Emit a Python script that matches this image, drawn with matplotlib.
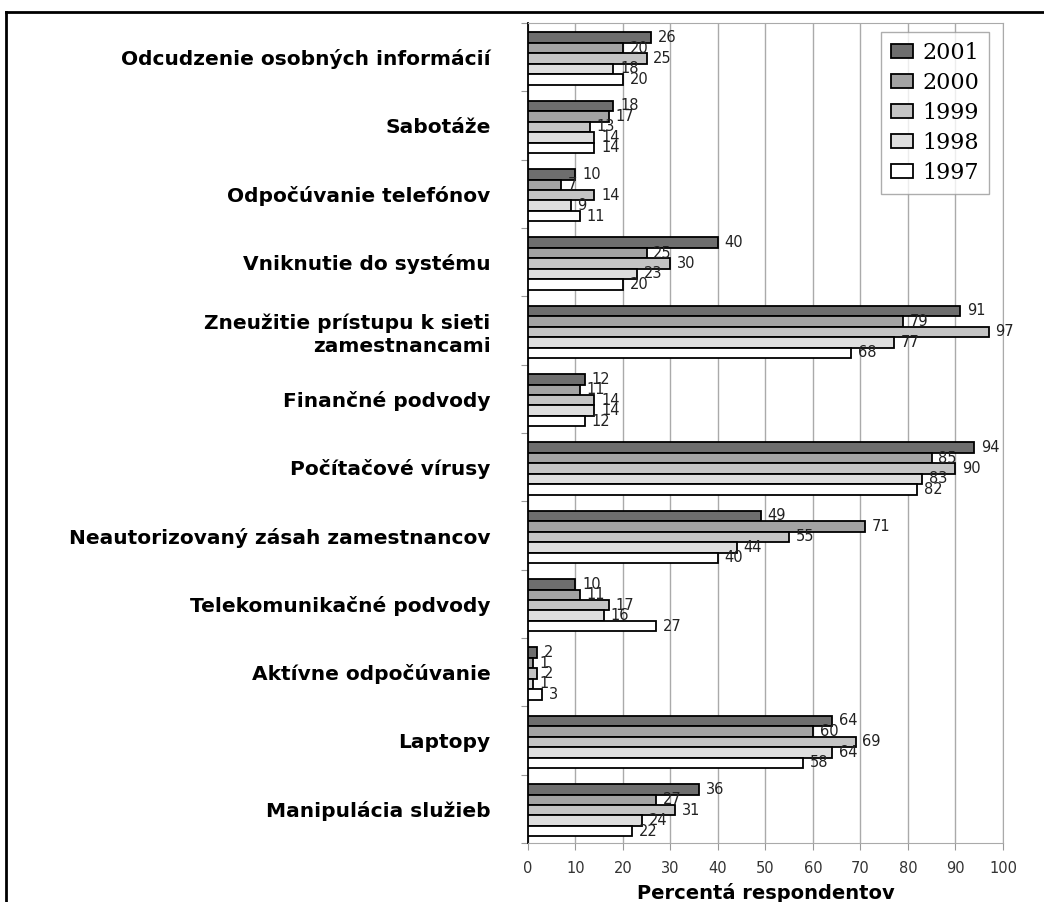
import matplotlib
matplotlib.use('Agg')
import matplotlib.pyplot as plt
import numpy as np

categories = [
    "Odcudzenie osobných informácií",
    "Sabotáže",
    "Odpočúvanie telefónov",
    "Vniknutie do systému",
    "Zneužitie prístupu k sieti\nzamestnancami",
    "Finančné podvody",
    "Počítačové vírusy",
    "Neautorizovaný zásah zamestnancov",
    "Telekomunikačné podvody",
    "Aktívne odpočúvanie",
    "Laptopy",
    "Manipulácia služieb",
]
years = ["2001", "2000", "1999", "1998", "1997"]
v2001 = [26, 18, 10, 40, 91, 12, 94, 49, 10, 2, 64, 36]
v2000 = [20, 17, 7, 25, 79, 11, 85, 71, 11, 1, 60, 27]
v1999 = [25, 13, 14, 30, 97, 14, 90, 55, 17, 2, 69, 31]
v1998 = [18, 14, 9, 23, 77, 14, 83, 44, 16, 1, 64, 24]
v1997 = [20, 14, 11, 20, 68, 12, 82, 40, 27, 3, 58, 22]
series = [v2001, v2000, v1999, v1998, v1997]
colors = ["#6e6e6e", "#a3a3a3", "#c4c4c4", "#dedede", "#ffffff"]

fig = plt.figure(figsize=(10.44, 9.02), dpi=100)
ax = fig.add_axes([0.5057, 0.0654, 0.455, 0.9091])

n = len(categories)
bh = 0.153
y = np.arange(n)
for i, (vals, col, lab) in enumerate(zip(series, colors, years)):
    pos = y - 2 * bh + i * bh + 0.02
    ax.barh(pos, vals, height=bh, color=col, edgecolor="black", linewidth=1.3, label=lab, zorder=3)
    for p, v in zip(pos, vals):
        ax.text(v + 1.4, p, str(v), va="center", ha="left", fontsize=10.5,
                family="DejaVu Sans", color="#222222", zorder=4)

ax.set_ylim(n - 0.5, -0.5)
ax.set_xlim(0, 100)
ax.set_xticks(range(0, 101, 10))
ax.set_xticklabels([str(t) for t in range(0, 101, 10)], family="DejaVu Sans",
                   fontsize=10.5, color="#333333")
ax.set_yticks(np.arange(n + 1) - 0.5)
ax.set_yticklabels([])
ax.set_yticks(y, minor=True)
ax.set_yticklabels(categories, minor=True, family="DejaVu Sans", weight="bold",
                   fontsize=14.5, ha="right", linespacing=1.3)
ax.tick_params(axis="y", which="minor", length=0, pad=27)
ax.tick_params(axis="y", which="major", length=5, color="#999999")
ax.tick_params(axis="x", length=5, color="#999999", pad=8)
ax.grid(axis="x", color="#aaaaaa", linewidth=1, zorder=0)
for s in ["top", "right", "bottom"]:
    ax.spines[s].set_color("#aaaaaa")
ax.spines["left"].set_color("black")
ax.spines["left"].set_linewidth(1.3)
ax.set_xlabel("Percentá respondentov", family="DejaVu Sans", weight="bold",
              fontsize=14, labelpad=5)

leg = ax.legend(loc="upper right", bbox_to_anchor=(0.9473, 0.9645), bbox_transform=fig.transFigure,
                prop={"family": "DejaVu Serif", "size": 16}, frameon=True, fancybox=False,
                handlelength=1.0, handleheight=0.63, labelspacing=0.36, borderpad=0.45,
                handletextpad=0.4, borderaxespad=0, edgecolor="#999999")
leg.get_frame().set_linewidth(1)

# outer frame lines
fig.add_artist(plt.Line2D([0.0057, 1.0], [0.9867, 0.9867], color="black", linewidth=2, transform=fig.transFigure))
fig.add_artist(plt.Line2D([0.0057, 0.0057], [0.0, 0.9867], color="black", linewidth=2, transform=fig.transFigure))

fig.savefig("out.png", dpi=100)
